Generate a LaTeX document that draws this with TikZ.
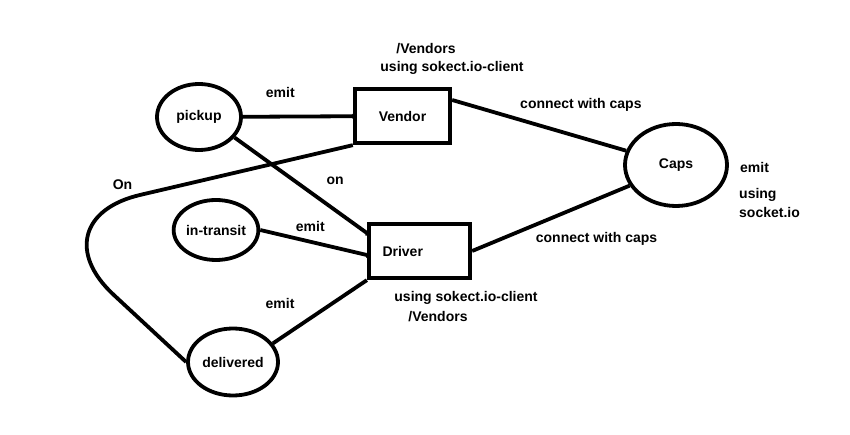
\documentclass[tikz,border=0pt]{standalone}
\usepackage{fontspec}
\setmainfont{Liberation Sans}
\usetikzlibrary{arrows.meta,shapes.geometric}
\definecolor{Ink}{HTML}{000000}
\definecolor{Paper}{HTML}{FFFFFF}
\tikzset{
  state/.style={
    ellipse, draw=Ink, line width=3.8pt, inner sep=0pt,
    font=\fontsize{14}{17}\selectfont\bfseries
  },
  actor/.style={
    rectangle, draw=Ink, line width=3.8pt, minimum height=54.5pt,
    font=\fontsize{14}{17}\selectfont\bfseries
  },
  note/.style={inner sep=1pt, font=\fontsize{14}{19}\selectfont\bfseries},
  link/.style={line width=3.8pt, draw=Ink},
  dotlink/.style={link, -{Circle[length=5pt]}, shorten >=-3pt}
}

\begin{document}
\begin{tikzpicture}[x=1pt,y=-1pt]
        \fill[Paper] (0,0) rectangle (850,435);
        \useasboundingbox (0,0) rectangle (850,435);
        \node[state,minimum width=84pt,minimum height=66pt] (pickup) at (199,117) {pickup};
        \node[actor,minimum width=95.5pt] (vendor) at (402.5,116) {Vendor};
        \node[state,minimum width=102pt,minimum height=82pt] (caps) at (676,165) {Caps};
        \node[actor,minimum width=101.5pt,text width=74pt,align=left] (driver) at (419.5,251) {Driver};
        \node[state,minimum width=75pt,minimum height=60pt] (transit) at (216,230) {in-transit};
        \node[state,minimum width=90pt,minimum height=67pt] (delivered) at (233,362) {delivered};
        \coordinate (bend) at (33,220);
        % namespace notes
        \node[note] (vendorns) at (426,49) {/Vendors};
        \node[note] (vendorlib) at (452,68) {using sokect.io-client};
        \node[note] (driverlib) at (466,298) {using sokect.io-client};
        \node[note] (driverns) at (438,317) {/Vendors};
        \node[note,anchor=west] (capsemit) at (739,167) {emit};
        \node[note,anchor=west,align=left] (capslib) at (738,203) {using\\socket.io};
        % links
        \draw[dotlink] (pickup)--node[note,pos=0.34,yshift=24pt] (emitpick) {emit}(vendor);
        \draw[dotlink] (pickup.-30)--node[note,pos=0.76,yshift=29pt] (onpick) {on}([yshift=18pt]driver.west);
        \draw[link,rounded corners=110pt] (vendor.south west)
          --node[note,pos=0.72,yshift=14pt] (onvendor) {On}(bend)--(delivered.west);
        \draw[link] ([yshift=16pt]vendor.east)--node[note,pos=0.74,yshift=33pt] (connvendor) {connect with caps}(caps.164);
        \draw[link] (driver.east)--node[note,pos=0.79,yshift=-40pt] (conndriver) {connect with caps}(caps.204);
        \draw[dotlink] (transit.east)--node[note,pos=0.47,yshift=15pt] (emittransit) {emit}([yshift=-4pt]driver.west);
        \draw[link] (delivered.25)--node[note,pos=0.3,xshift=-21pt,yshift=21pt] (emitdeliv) {emit}(driver.south west);
      \end{tikzpicture}
\end{document}
